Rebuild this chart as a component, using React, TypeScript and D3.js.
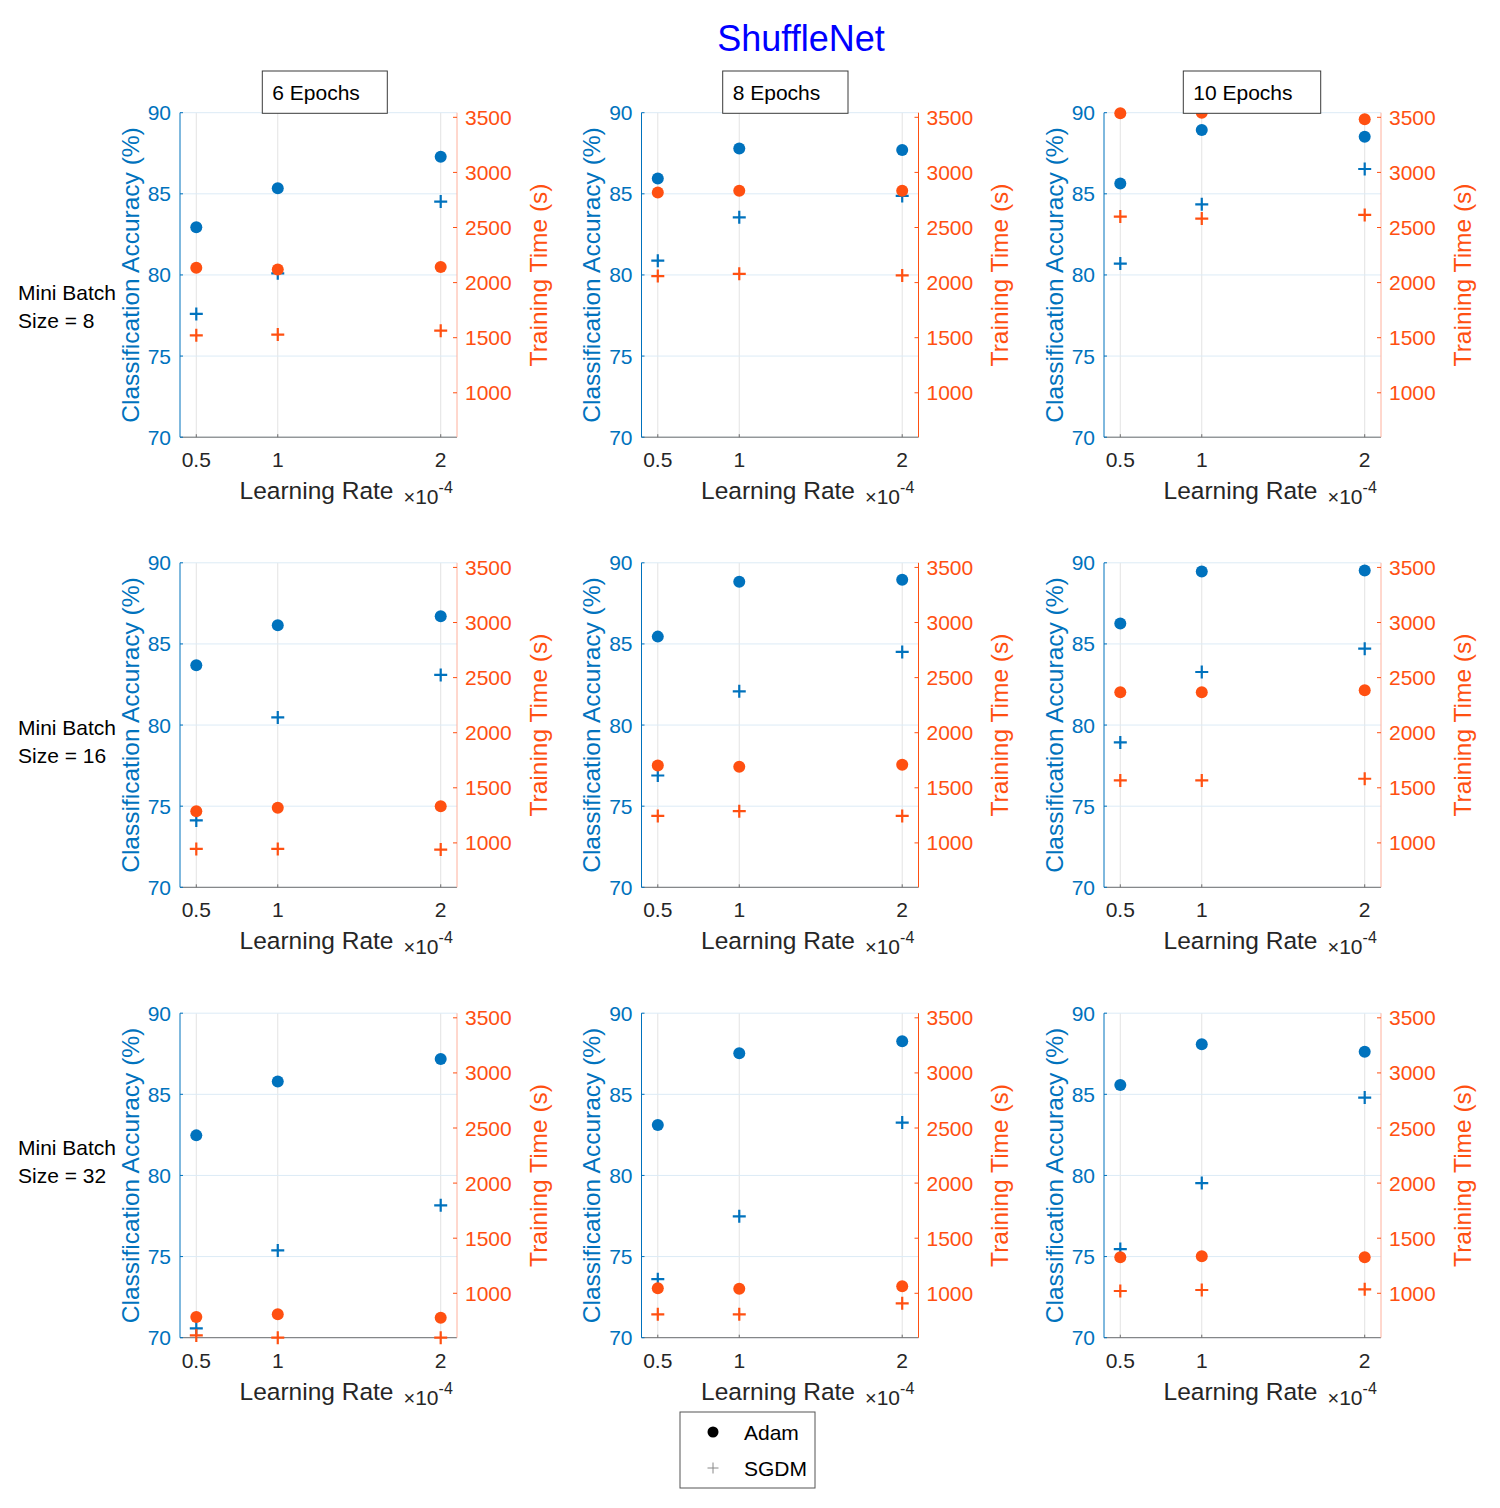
import React from 'react';
import * as d3 from 'd3';

// learning rates (x 1e-4)
const learningRates = [0.5, 1, 2];
const epochLabels = ['6 Epochs', '8 Epochs', '10 Epochs'];
const batchSizes = [8, 16, 32];

// [batch row][epoch col][learning rate]
const adamAcc = [
  [[82.94, 85.34, 87.29], [85.95, 87.8, 87.7], [85.63, 88.93, 88.52]],
  [[83.68, 86.15, 86.71], [85.45, 88.83, 88.95], [86.26, 89.47, 89.53]],
  [[82.47, 85.79, 87.18], [83.11, 87.53, 88.27], [85.57, 88.08, 87.63]],
];
const sgdmAcc = [
  [[77.6, 80.1, 84.52], [80.88, 83.55, 84.87], [80.7, 84.35, 86.53]],
  [[74.12, 80.47, 83.09], [76.89, 82.08, 84.51], [78.93, 83.27, 84.71]],
  [[70.58, 75.38, 78.16], [73.61, 77.48, 83.26], [75.46, 79.53, 84.8]],
];
const adamTime = [
  [[2135, 2120, 2141], [2817, 2833, 2833], [3536, 3542, 3482]],
  [[1288, 1318, 1333], [1703, 1691, 1709], [2367, 2367, 2385]],
  [[785, 809, 779], [1045, 1042, 1064], [1327, 1336, 1327]],
];
const sgdmTime = [
  [[1522, 1528, 1564], [2059, 2080, 2065], [2599, 2581, 2614]],
  [[945, 945, 939], [1245, 1288, 1245], [1567, 1567, 1582]],
  [[618, 597, 597], [809, 809, 909], [1021, 1030, 1036]],
];

const accTicks = [70, 75, 80, 85, 90];
const timeTicks = [1000, 1500, 2000, 2500, 3000, 3500];

const BLUE = '#0072BD';
const ORANGE = '#FF5011';
const FONT = '"Liberation Sans", Arial, Helvetica, sans-serif';

// layout
const colLeft = [180, 641.5, 1104];
const rowTop = [112.7, 562.8, 1013.2];
const panelW = 277;
const panelH = 324.5;
const headerBoxes = [
  { x: 262.3, w: 125 },
  { x: 722.7, w: 125.3 },
  { x: 1183.3, w: 137.4 },
];
const rowLabelY = [292, 727, 1147];
const rightAxisStroke = ['#ffb09c', ORANGE, '#ffb09c'];

const allTimes = [...adamTime.flat(2), ...sgdmTime.flat(2)];
const timeExtent = d3.extent(allTimes) as [number, number];

const plusPath = 'M-6.5,0H6.5M0,-6.5V6.5';
const LABEL_SIZE = 24.5;

function Panel({ r, c }: { r: number; c: number }) {
  const x = d3.scaleLinear().domain([0.4, 2.1]).range([0, panelW]);
  const yL = d3.scaleLinear().domain([70, 90]).range([panelH, 0]);
  const yR = d3.scaleLinear().domain(timeExtent).range([panelH, 0]);
  const tx = colLeft[c];
  const ty = rowTop[r];

  return (
    <g transform={`translate(${tx},${ty})`} fontFamily={FONT}>
      {/* grid */}
      {learningRates.map((lr) => (
        <line key={'gx' + lr} x1={x(lr)} x2={x(lr)} y1={0} y2={panelH} stroke="#e3e3e3" strokeWidth={1} />
      ))}
      {accTicks.map((t) => (
        <line key={'gy' + t} x1={0} x2={panelW} y1={yL(t)} y2={yL(t)} stroke="#dcebf6" strokeWidth={1} />
      ))}

      {/* bottom axis */}
      <line x1={0} x2={panelW} y1={panelH} y2={panelH} stroke="#6e6e6e" strokeWidth={1} />
      {learningRates.map((lr) => (
        <g key={'xt' + lr}>
          <line x1={x(lr)} x2={x(lr)} y1={panelH} y2={panelH - 3} stroke="#6e6e6e" />
          <text x={x(lr)} y={panelH + 30} textAnchor="middle" fontSize={21} fill="#262626">
            {lr}
          </text>
        </g>
      ))}
      <text x={panelW / 2 - 2} y={panelH + 62} textAnchor="middle" fontSize={LABEL_SIZE} fill="#262626">
        Learning Rate
      </text>
      <text x={panelW / 2 + 85} y={panelH + 67} fontSize={21} fill="#262626">
        <tspan fontSize={20}>×</tspan>
        <tspan>10</tspan>
        <tspan fontSize={16} dy={-11}>-4</tspan>
      </text>

      {/* left axis */}
      <line x1={0} x2={0} y1={0} y2={panelH} stroke={BLUE} strokeWidth={1} />
      {accTicks.map((t) => (
        <g key={'yl' + t}>
          <line x1={0} x2={3} y1={yL(t)} y2={yL(t)} stroke={BLUE} />
          <text x={-9} y={yL(t)} dy="0.36em" textAnchor="end" fontSize={21} fill={BLUE}>
            {t}
          </text>
        </g>
      ))}
      <text
        transform={`translate(-50,${panelH / 2}) rotate(-90)`}
        textAnchor="middle"
        dy="0.36em"
        fontSize={LABEL_SIZE}
        fill={BLUE}
      >
        Classification Accuracy (%)
      </text>

      {/* right axis */}
      <line x1={panelW} x2={panelW} y1={0} y2={panelH} stroke={rightAxisStroke[c]} strokeWidth={1} />
      {timeTicks.map((t) => (
        <g key={'yr' + t}>
          <line x1={panelW} x2={panelW - 4} y1={yR(t)} y2={yR(t)} stroke={ORANGE} />
          <text x={panelW + 8} y={yR(t)} dy="0.36em" fontSize={21} fill={ORANGE}>
            {t}
          </text>
        </g>
      ))}
      <text
        transform={`translate(${panelW + 81},${panelH / 2}) rotate(-90)`}
        textAnchor="middle"
        dy="0.36em"
        fontSize={LABEL_SIZE}
        fill={ORANGE}
      >
        Training Time (s)
      </text>

      {/* accuracy (left) */}
      {learningRates.map((lr, i) => (
        <circle key={'aa' + i} cx={x(lr)} cy={yL(adamAcc[r][c][i])} r={6} fill={BLUE} />
      ))}
      {learningRates.map((lr, i) => (
        <path
          key={'sa' + i}
          d={plusPath}
          transform={`translate(${x(lr)},${yL(sgdmAcc[r][c][i])})`}
          stroke={BLUE}
          strokeWidth={2.2}
          fill="none"
        />
      ))}

      {/* training time (right) */}
      {learningRates.map((lr, i) => (
        <circle key={'at' + i} cx={x(lr)} cy={yR(adamTime[r][c][i])} r={6} fill={ORANGE} />
      ))}
      {learningRates.map((lr, i) => (
        <path
          key={'st' + i}
          d={plusPath}
          transform={`translate(${x(lr)},${yR(sgdmTime[r][c][i])})`}
          stroke={ORANGE}
          strokeWidth={2.2}
          fill="none"
        />
      ))}
    </g>
  );
}

export default function App() {
  return (
    <svg
      width={1500}
      height={1508}
      style={{ position: 'absolute', left: 0, top: 0, background: '#fff' }}
      fontFamily={FONT}
    >
      <rect width={1500} height={1508} fill="#fff" />
      <text x={801} y={51} textAnchor="middle" fontSize={36} fill="#0000FF">
        ShuffleNet
      </text>

      {batchSizes.map((_, r) => epochLabels.map((_, c) => <Panel key={`${r}-${c}`} r={r} c={c} />))}

      {/* column headers */}
      {epochLabels.map((lbl, c) => (
        <g key={lbl}>
          <rect x={headerBoxes[c].x} y={71} width={headerBoxes[c].w} height={42.3} fill="#fff" stroke="#3a3a3a" strokeWidth={1} />
          <text x={headerBoxes[c].x + 10} y={99.5} fontSize={21} fill="#000">
            {lbl}
          </text>
        </g>
      ))}

      {/* row labels */}
      {batchSizes.map((b, r) => (
        <text key={b} x={18} y={rowLabelY[r] + 7.5} fontSize={21} fill="#000">
          <tspan x={18}>Mini Batch</tspan>
          <tspan x={18} dy={28}>{`Size = ${b}`}</tspan>
        </text>
      ))}

      {/* legend */}
      <g>
        <rect x={680} y={1412} width={135} height={76} fill="#fff" stroke="#555" strokeWidth={1} />
        <circle cx={713} cy={1432} r={5.5} fill="#000" />
        <text x={744} y={1440} fontSize={21} fill="#000">
          Adam
        </text>
        <path d="M-5.5,0H5.5M0,-5.5V5.5" transform="translate(713,1468)" stroke="#888" strokeWidth={1} />
        <text x={744} y={1476} fontSize={21} fill="#000">
          SGDM
        </text>
      </g>
    </svg>
  );
}
